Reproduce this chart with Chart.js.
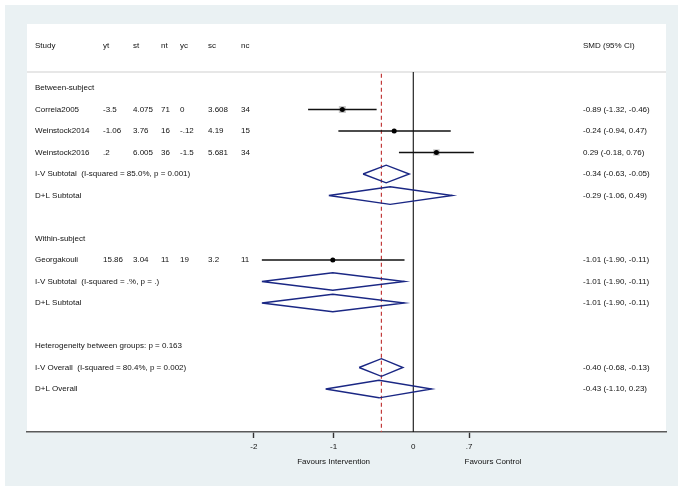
<!DOCTYPE html>
<html>
<head>
<meta charset="utf-8">
<script src="https://cdn.jsdelivr.net/npm/chart.js@4/dist/chart.umd.min.js"></script>
<style>
  html, body { margin: 0; padding: 0; background: #ffffff; }
  #wrap { width: 688px; height: 493px; }
</style>
</head>
<body>
<div id="wrap"><canvas id="c" width="688" height="493"></canvas></div>
<script>
// ---------------- DATA ----------------
const headers = ["Study", "yt", "st", "nt", "yc", "sc", "nc"];
const ciHeader = "SMD (95% CI)";

const studyNames = ["Correia2005", "Weinstock2014", "Weinstock2016", "Georgakouli"];
const studyYt = ["-3.5", "-1.06", ".2", "15.86"];
const studySt = ["4.075", "3.76", "6.005", "3.04"];
const studyNt = ["71", "16", "36", "11"];
const studyYc = ["0", "-.12", "-1.5", "19"];
const studySc = ["3.608", "4.19", "5.681", "3.2"];
const studyNc = ["34", "15", "34", "11"];
const studySmd = [-0.89, -0.24, 0.29, -1.01];
const studyLo = [-1.32, -0.94, -0.18, -1.90];
const studyHi = [-0.46, 0.47, 0.76, -0.11];
const studyWeight = [41.0, 15.2, 34.3, 9.5];   // estimated % weights (box size)
const studyRow = [1, 2, 3, 8];

const pooledLabels = [
  "I-V Subtotal  (I-squared = 85.0%, p = 0.001)",
  "D+L Subtotal",
  "I-V Subtotal  (I-squared = .%, p = .)",
  "D+L Subtotal",
  "I-V Overall  (I-squared = 80.4%, p = 0.002)",
  "D+L Overall"
];
const pooledEst = [-0.34, -0.29, -1.01, -1.01, -0.40, -0.43];
const pooledLo = [-0.63, -1.06, -1.90, -1.90, -0.68, -1.10];
const pooledHi = [-0.05, 0.49, -0.11, -0.11, -0.13, 0.23];
const pooledRow = [4, 5, 9, 10, 13, 14];

const groupLabels = ["Between-subject", "Within-subject", "Heterogeneity between groups: p = 0.163"];
const groupRow = [0, 7, 12];

const xTicks = [-2, -1, 0, 0.7];
const xTickLabels = ["-2", "-1", "0", ".7"];
const favourLabels = ["Favours Intervention", "Favours Control"];
const favourAt = [-1, 1];

const overallLine = -0.40;   // dashed reference (I-V overall)
const nullLine = 0;

// ---------------- LAYOUT CONSTANTS ----------------
const X_MIN = -4.847, X_MAX = 3.171;
const ROW_MIN = -2.977, ROW_MAX = 16.0;
const HEADER_ROW = -1.98;
const SEP_ROW = -0.744;
const DIAMOND_HALF = 0.41;
const FONT = '8px "Liberation Sans", Arial, sans-serif';
const TEXT_COLOR = '#111111';
const NAVY = '#1a2784';
const colX = [35, 103, 133, 161, 180, 208, 241];
const ciX = 583;

function fmt(v) { return v.toFixed(2); }
function ciText(e, l, h) { return fmt(e) + " (" + fmt(l) + ", " + fmt(h) + ")"; }

// ---------------- DATASETS ----------------
const datasets = [];

// dots
datasets.push({
  label: 'points',
  data: studySmd.map((v, i) => ({ x: v, y: studyRow[i] })),
  pointStyle: 'circle',
  pointRadius: 2.5,
  backgroundColor: '#000',
  borderColor: '#000',
  borderWidth: 0,
  showLine: false,
  order: 0
});
// CI lines
studySmd.forEach((v, i) => {
  datasets.push({
    label: 'ci' + i,
    data: [{ x: studyLo[i], y: studyRow[i] }, { x: studyHi[i], y: studyRow[i] }],
    showLine: true,
    borderColor: '#111',
    borderWidth: 1.3,
    pointRadius: 0,
    order: 1
  });
});
// weight boxes
datasets.push({
  label: 'boxes',
  data: studySmd.map((v, i) => ({ x: v, y: studyRow[i] })),
  pointStyle: 'rect',
  pointRadius: ctx => Math.sqrt(studyWeight[ctx.dataIndex]) * 1.1 / Math.SQRT2,
  backgroundColor: '#c9c9c9',
  borderWidth: 0,
  showLine: false,
  order: 2
});
// diamonds
pooledEst.forEach((e, i) => {
  const r = pooledRow[i];
  datasets.push({
    label: 'diamond' + i,
    data: [
      { x: pooledLo[i], y: r },
      { x: e, y: r - DIAMOND_HALF },
      { x: pooledHi[i], y: r },
      { x: e, y: r + DIAMOND_HALF },
      { x: pooledLo[i], y: r }
    ],
    showLine: true,
    fill: false,
    borderColor: NAVY,
    borderWidth: 1.4,
    tension: 0,
    pointRadius: 0,
    order: 1
  });
});
// null line
datasets.push({
  label: 'null',
  data: [{ x: nullLine, y: SEP_ROW }, { x: nullLine, y: ROW_MAX }],
  showLine: true,
  borderColor: '#111',
  borderWidth: 1.1,
  pointRadius: 0,
  order: 4
});
// overall dashed line
datasets.push({
  label: 'overall',
  data: [{ x: overallLine, y: SEP_ROW + 0.08 }, { x: overallLine, y: ROW_MAX }],
  showLine: true,
  borderColor: '#c23b3b',
  borderDash: [4, 3],
  borderWidth: 1.2,
  pointRadius: 0,
  order: 3
});
// header separator
datasets.push({
  label: 'sep',
  data: [{ x: X_MIN, y: SEP_ROW }, { x: X_MAX, y: SEP_ROW }],
  showLine: true,
  borderColor: '#cfcfcf',
  borderWidth: 1.2,
  pointRadius: 0,
  order: 5
});

// ---------------- PLUGINS ----------------
const bgPlugin = {
  id: 'bg',
  beforeDraw(chart) {
    const { ctx, chartArea: a } = chart;
    ctx.save();
    ctx.fillStyle = '#ffffff';
    ctx.fillRect(0, 0, chart.width, chart.height);
    ctx.fillStyle = '#eaf1f3';
    ctx.fillRect(5, 5, 673, 481);
    ctx.fillStyle = '#ffffff';
    ctx.fillRect(a.left, a.top, a.right - a.left, a.bottom - a.top);
    ctx.restore();
  }
};

const textPlugin = {
  id: 'texts',
  afterDraw(chart) {
    const { ctx } = chart;
    const ys = chart.scales.y, xs = chart.scales.x;
    ctx.save();
    ctx.font = FONT;
    ctx.fillStyle = TEXT_COLOR;
    ctx.textBaseline = 'middle';
    ctx.textAlign = 'left';
    const hy = ys.getPixelForValue(HEADER_ROW);
    headers.forEach((h, i) => ctx.fillText(h, colX[i], hy));
    ctx.fillText(ciHeader, ciX, hy);
    groupLabels.forEach((g, i) => ctx.fillText(g, colX[0], ys.getPixelForValue(groupRow[i])));
    studyNames.forEach((n, i) => {
      const y = ys.getPixelForValue(studyRow[i]);
      const cols = [n, studyYt[i], studySt[i], studyNt[i], studyYc[i], studySc[i], studyNc[i]];
      cols.forEach((t, j) => ctx.fillText(t, colX[j], y));
      ctx.fillText(ciText(studySmd[i], studyLo[i], studyHi[i]), ciX, y);
    });
    pooledLabels.forEach((l, i) => {
      const y = ys.getPixelForValue(pooledRow[i]);
      ctx.fillText(l, colX[0], y);
      ctx.fillText(ciText(pooledEst[i], pooledLo[i], pooledHi[i]), ciX, y);
    });
    // favour labels
    ctx.textAlign = 'center';
    const fy = chart.chartArea.bottom + 29.5;
    favourLabels.forEach((f, i) => ctx.fillText(f, xs.getPixelForValue(favourAt[i]), fy));
    ctx.restore();
  }
};

// ---------------- CHART ----------------
new Chart(document.getElementById('c'), {
  type: 'scatter',
  data: { datasets },
  options: {
    responsive: false,
    animation: false,
    devicePixelRatio: 1,
    layout: { padding: { top: 24, left: 27, right: 22, bottom: 0 } },
    plugins: { legend: { display: false }, tooltip: { enabled: false } },
    elements: { line: { tension: 0 } },
    scales: {
      x: {
        type: 'linear',
        min: X_MIN,
        max: X_MAX,
        afterBuildTicks(scale) { scale.ticks = xTicks.map(v => ({ value: v })); },
        afterFit(scale) { scale.height = 61; },
        ticks: {
          autoSkip: false,
          maxRotation: 0,
          padding: 4,
          color: TEXT_COLOR,
          font: { family: '"Liberation Sans", Arial, sans-serif', size: 8 },
          callback: (v) => { const k = xTicks.indexOf(v); return k >= 0 ? xTickLabels[k] : ''; }
        },
        grid: {
          drawOnChartArea: false,
          drawTicks: true,
          tickLength: 6,
          tickWidth: 1.4,
          tickColor: ctx => (ctx.tick && ctx.tick.value === 0) ? 'rgba(0,0,0,0)' : '#333'
        },
        border: { display: true, color: '#5a5a5a', width: 1.6 }
      },
      y: {
        type: 'linear',
        display: false,
        reverse: true,
        min: ROW_MIN,
        max: ROW_MAX
      }
    }
  },
  plugins: [bgPlugin, textPlugin]
});
</script>
</body>
</html>
